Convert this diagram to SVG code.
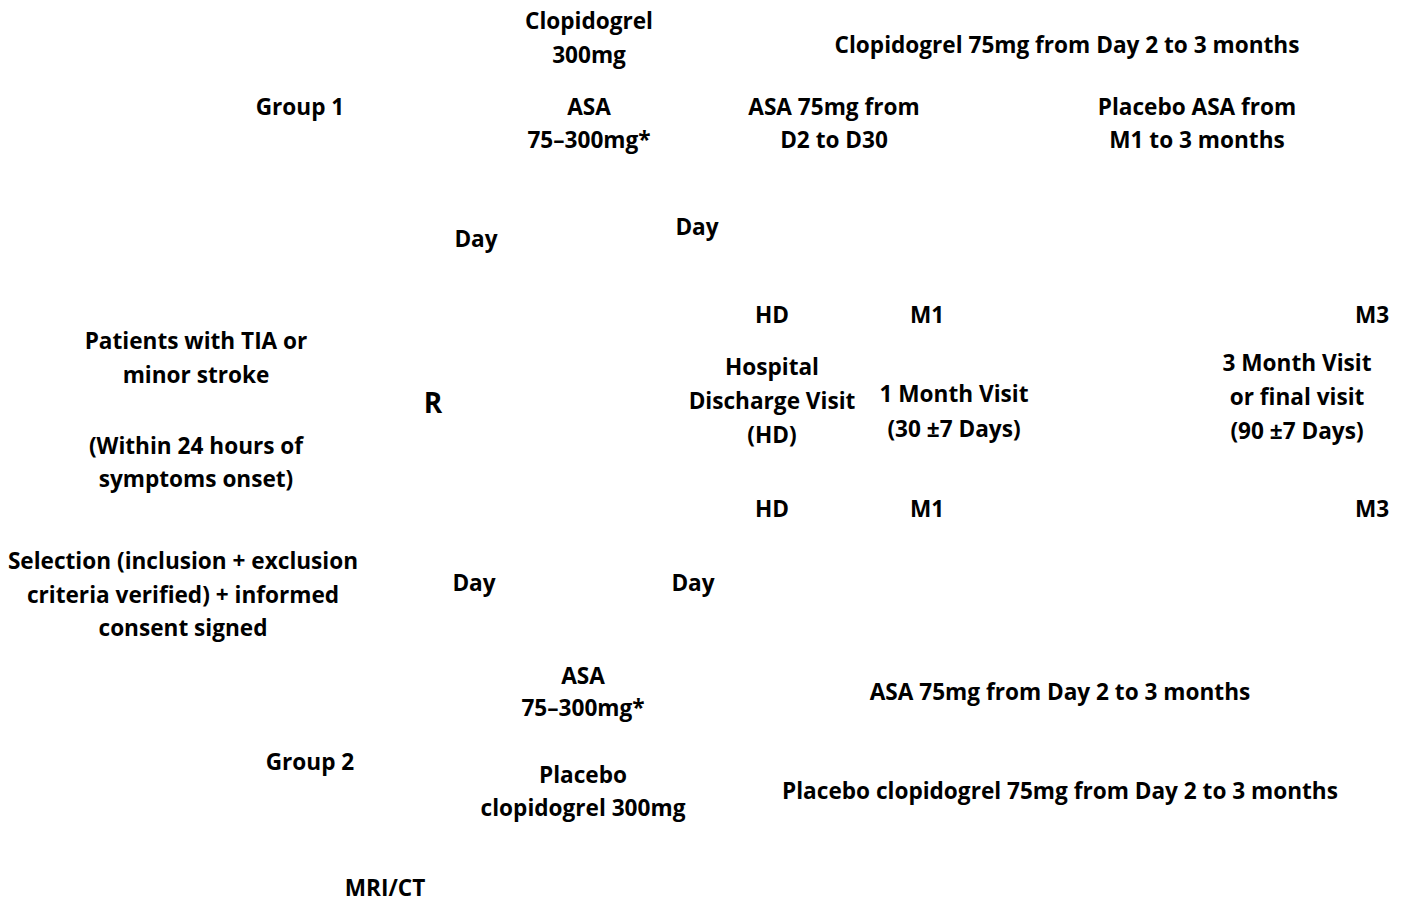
<svg xmlns="http://www.w3.org/2000/svg" width="1408" height="905" viewBox="0 0 1408 905">
<style>
text{font-family:"Open Sans",Lato,"Liberation Sans",sans-serif;font-weight:bold;font-size:22.6px;fill:#000;text-anchor:middle}
.big{font-size:28px}
</style>
<rect width="1408" height="905" fill="#fff"/>
<g id="clop1"><text x="589" y="29">Clopidogrel</text><text x="589" y="63">300mg</text></g>
<g id="clop1long"><text x="1067" y="53">Clopidogrel 75mg from Day 2 to 3 months</text></g>
<g id="group1"><text x="300" y="115">Group 1</text></g>
<g id="asa1"><text x="589" y="115">ASA</text><text x="589" y="148">75–300mg*</text></g>
<g id="asa1b"><text x="834" y="115">ASA 75mg from</text><text x="834" y="148">D2 to D30</text></g>
<g id="placeboasa"><text x="1197" y="115">Placebo ASA from</text><text x="1197" y="148">M1 to 3 months</text></g>
<g id="day1"><text x="476" y="247">Day</text></g>
<g id="day2"><text x="697" y="235">Day</text></g>
<g id="hd1"><text x="772" y="323">HD</text></g>
<g id="m1a"><text x="927" y="323">M1</text></g>
<g id="m3a"><text x="1372" y="323">M3</text></g>
<g id="patients"><text x="196" y="349">Patients with TIA or</text><text x="196" y="383">minor stroke</text><text x="196" y="454">(Within 24 hours of</text><text x="196" y="487">symptoms onset)</text></g>
<g id="r"><text class="big" x="433" y="413">R</text></g>
<g id="hdvisit"><text x="772" y="375">Hospital</text><text x="772" y="409">Discharge Visit</text><text x="772" y="443">(HD)</text></g>
<g id="m1visit"><text x="954" y="402">1 Month Visit</text><text x="954" y="437">(30 ±7 Days)</text></g>
<g id="m3visit"><text x="1297" y="371">3 Month Visit</text><text x="1297" y="405">or final visit</text><text x="1297" y="439">(90 ±7 Days)</text></g>
<g id="hd2"><text x="772" y="517">HD</text></g>
<g id="m1b"><text x="927" y="517">M1</text></g>
<g id="m3b"><text x="1372" y="517">M3</text></g>
<g id="selection"><text x="183" y="569">Selection (inclusion + exclusion</text><text x="183" y="603">criteria verified) + informed</text><text x="183" y="636">consent signed</text></g>
<g id="day3"><text x="474" y="591">Day</text></g>
<g id="day4"><text x="693" y="591">Day</text></g>
<g id="asa2"><text x="583" y="684">ASA</text><text x="583" y="716">75–300mg*</text></g>
<g id="asa2long"><text x="1060" y="700">ASA 75mg from Day 2 to 3 months</text></g>
<g id="group2"><text x="310" y="770">Group 2</text></g>
<g id="placeboclop"><text x="583" y="783">Placebo</text><text x="583" y="816">clopidogrel 300mg</text></g>
<g id="placeboclop2"><text x="1060" y="799">Placebo clopidogrel 75mg from Day 2 to 3 months</text></g>
<g id="mri"><text x="385" y="896">MRI/CT</text></g>
<g id="connectors"></g>
</svg>
